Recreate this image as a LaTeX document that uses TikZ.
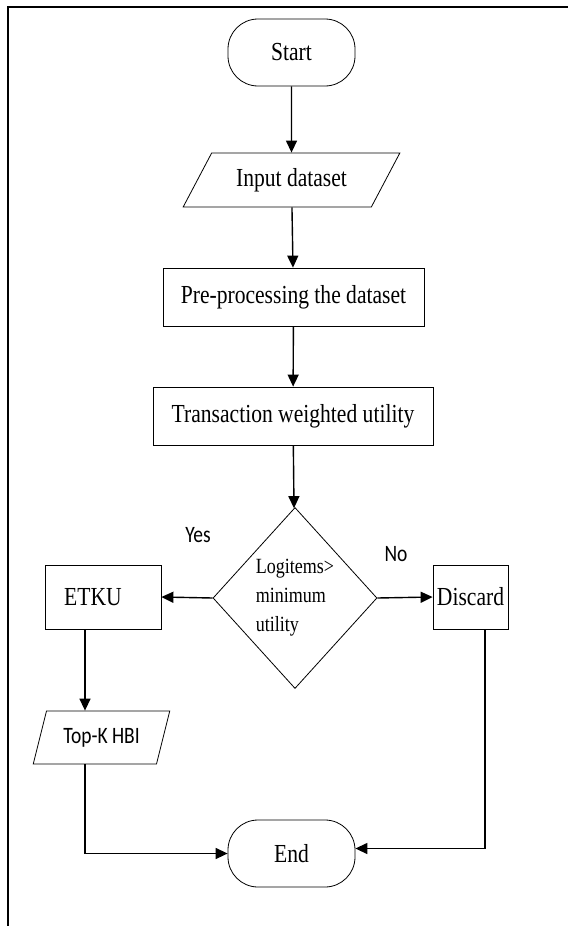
\documentclass[tikz,border=0pt]{standalone}
\usepackage{fontspec}
\setmainfont{Liberation Serif}[FakeStretch=0.83]
\newfontfamily\calfont{Carlito}[FakeStretch=0.83]
\usetikzlibrary{arrows.meta,positioning,calc,shapes.geometric}
\tikzset{
  termbox/.style={draw, rounded corners=30pt, line width=0.8pt, minimum width=127pt, minimum height=67pt, font=\fontsize{26}{30}\selectfont},
  iobox/.style={trapezium, trapezium stretches=true, draw, line width=0.8pt, inner sep=0pt},
  procbox/.style={draw, rectangle, line width=0.8pt, inner sep=0pt, font=\fontsize{26}{30}\selectfont},
  decision/.style={diamond, draw, line width=0.8pt, minimum width=164pt, minimum height=181pt, inner sep=0pt},
  dtext/.style={align=left, font=\fontsize{21.7}{29}\selectfont},
  flow/.style={-{Triangle[length=12pt,width=11pt]}, line width=1.4pt},
  note/.style={font=\calfont\fontsize{23.5}{27}\selectfont}
}
\begin{document}
\begin{tikzpicture}[x=1pt,y=-1pt]
\useasboundingbox (0,0) rectangle (568,926);
% frame
\draw[line width=2pt] (8,926) -- (8,7) -- (568,7);

% main column
\node[termbox] (start) at (291.5,52.5) {Start};
\node[iobox, trapezium left angle=50, trapezium right angle=130, minimum width=217pt, minimum height=54pt, font=\fontsize{26}{30}\selectfont] (input) at (291.5,180) {Input dataset};
\node[procbox, minimum width=261pt, minimum height=58pt] (prep) at (293.5,297) {Pre-processing the dataset};
\node[procbox, minimum width=280pt, minimum height=58pt] (twu) at (293,416) {Transaction weighted utility};
\node[decision] (check) at (295,598) {};
\node[dtext] (checktext) at (check) {Logitems>\\minimum\\utility};
\draw[flow] (start) -- (input);
\draw[flow] (input) -- (prep);
\draw[flow] (prep) -- (twu);
\draw[flow] (twu) -- (check);

% branches
\node[procbox, minimum width=116pt, minimum height=64pt] (etku) at (103,597) {ETKU\hspace*{20pt}};
\node[procbox, minimum width=75pt, minimum height=64pt] (discard) at (470.5,597) {Discard};
\node[note] (yes) at (198,535) {Yes};
\node[note] (no) at (396,554) {No};
\draw[flow] (check.west) -- (etku.east);
\draw[flow] (check.east) -- (discard.west);

\node[iobox, trapezium left angle=64, trapezium right angle=116, minimum width=137pt, minimum height=53pt, font=\calfont\fontsize{23.5}{27}\selectfont] (topk) at (101.5,737.5) {Top-K HBI};
\node[termbox] (end) at (291.5,853.5) {End};
\draw[flow] ([xshift=-18pt]etku.south) -- ([xshift=-18pt]etku.south |- topk.north);
\draw[flow] ([xshift=-16.5pt]topk.south) |- (end.west);
\draw[flow] ([xshift=14.5pt]discard.south) |- ([yshift=5pt]end.east);
\end{tikzpicture}
\end{document}
